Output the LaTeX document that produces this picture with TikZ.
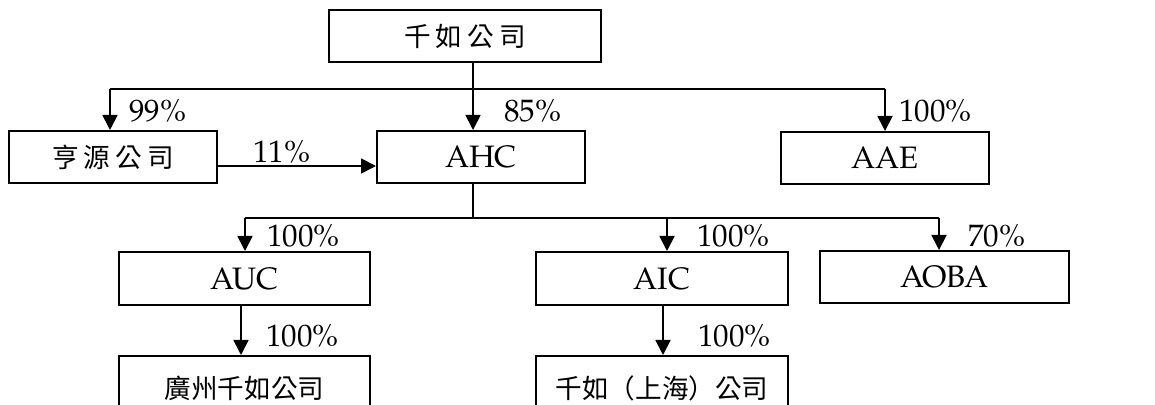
\documentclass[tikz,border=0pt]{standalone}
\usepackage{fontspec}
\setmainfont{TeX Gyre Pagella}
\newfontfamily\cjk{Noto Sans CJK TC}
\usetikzlibrary{arrows.meta}
\newcommand\cjtext[1]{{\cjk\fontsize{13.3}{15}\selectfont #1}}
\newcommand\wsp{\kern2.6pt}
\begin{document}
\begin{tikzpicture}[x=0.5pt,y=-0.5pt,
  box/.style={draw,line width=1pt,inner sep=0pt,font=\fontsize{15.5}{18}\selectfont},
  conn/.style={line width=0.9pt},
  arr/.style={conn,-{Triangle[length=7.5pt,width=7.5pt]}},
  pct/.style={anchor=base west,inner sep=0pt,font=\fontsize{15.5}{18}\selectfont}]
\useasboundingbox (0,0) rectangle (1155,405);
\clip (0,0) rectangle (1155,405);
% boxes
\node[box,minimum width=136pt,minimum height=26pt] (qr) at (465,36) {\cjtext{千\wsp 如\wsp 公\wsp 司}};
\node[box,minimum width=104pt,minimum height=26pt] (hy) at (113,157) {\cjtext{亨\wsp 源\wsp 公\wsp 司}};
\node[box,minimum width=104pt,minimum height=26pt] (ahc) at (481,157) {AHC};
\node[box,minimum width=104pt,minimum height=26pt] (aae) at (885,158) {AAE};
\node[box,minimum width=125.5pt,minimum height=26.5pt] (auc) at (244.5,278.5) {AUC};
\node[box,minimum width=126pt,minimum height=26.5pt] (aic) at (662,278.5) {AIC};
\node[box,minimum width=124.5pt,minimum height=26pt] (aoba) at (944.5,277) {AOBA};
\node[box,minimum width=125.5pt,minimum height=32pt] (gz) at (244.5,388) {\cjtext{廣州千如公司}};
\node[box,minimum width=126pt,minimum height=32pt] (sh) at (662,388) {\cjtext{千如（上海）公司}};
% junction coordinates
\coordinate (jL) at (110,89);
\coordinate (jR) at (885,89);
\coordinate (xa) at (473,0);
\coordinate (ya) at (0,166);
\coordinate (jL2) at (245,218);
\coordinate (jR2) at (939,218);
\coordinate (xb) at (667,218);
\coordinate (xc) at (241,0);
\coordinate (xd) at (663,0);
% connectors
\draw[conn] (jL) -- (jR);
\draw[arr] (jL) -- (jL |- hy.north);
\draw[arr] (xa |- qr.south) -- (xa |- ahc.north);
\draw[arr] (jR) -- (jR |- aae.north);
\draw[arr] (hy.east |- ya) -- (ahc.west |- ya);
\draw[conn] (xa |- ahc.south) -- (xa |- jL2);
\draw[conn] (jL2) -- (jR2);
\draw[arr] (jL2) -- (jL2 |- auc.north);
\draw[arr] (xb) -- (xb |- aic.north);
\draw[arr] (jR2) -- (jR2 |- aoba.north);
\draw[arr] (xc |- auc.south) -- (xc |- gz.north);
\draw[arr] (xd |- aic.south) -- (xd |- sh.north);
% labels
\node[pct] (l1) at (129,122) {99\%};
\node[pct] (l2) at (504,122) {85\%};
\node[pct] (l3) at (899,122) {100\%};
\node[pct] (l4) at (253,163) {11\%};
\node[pct] (l5) at (267,247) {100\%};
\node[pct] (l6) at (697,247) {100\%};
\node[pct] (l7) at (968,247) {70\%};
\node[pct] (l8) at (266,346) {100\%};
\node[pct] (l9) at (698,346) {100\%};
\end{tikzpicture}
\end{document}
